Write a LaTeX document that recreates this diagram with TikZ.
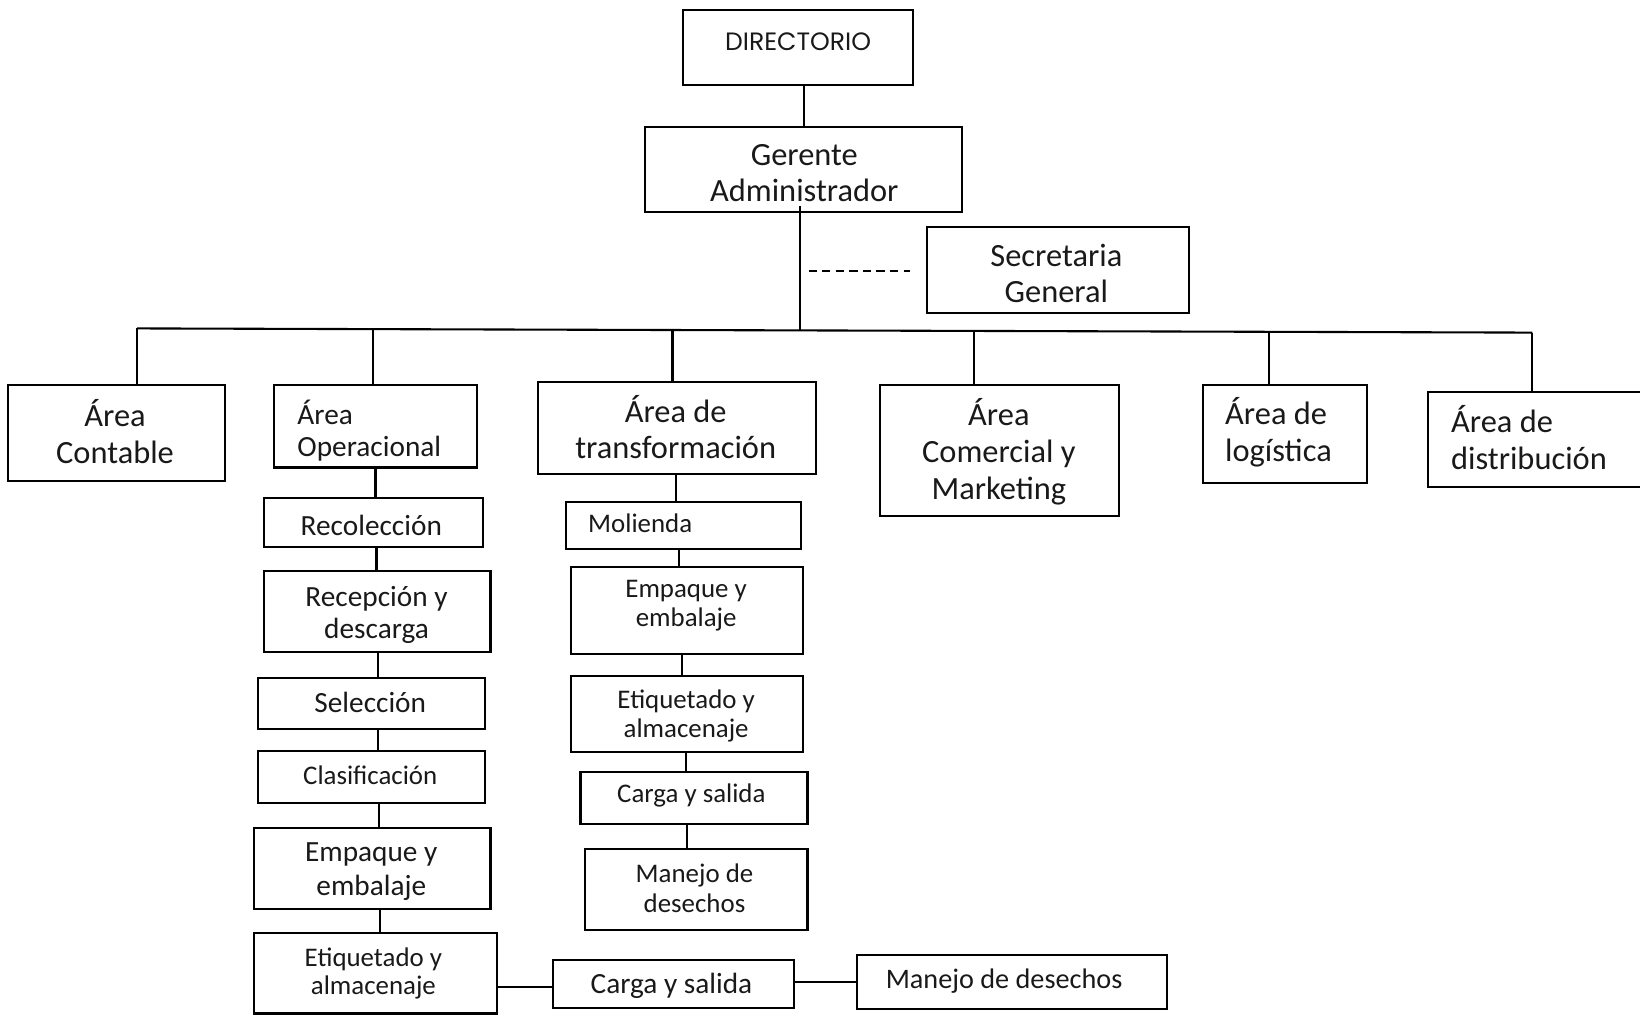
\documentclass[tikz,border=0pt]{standalone}
\usepackage{fontspec}
\setmainfont{Carlito}
\newfontfamily\dirfont{Poppins}
\usetikzlibrary{fit,calc}
\begin{document}
\begin{tikzpicture}[x=0.5pt,y=-0.5pt,
  box/.style={draw, line width=1pt, inner sep=0pt, outer sep=0pt},
  conn/.style={line width=1pt},
  dline/.style={line width=1pt, dash pattern=on 4pt off 2.5pt},
  lbl/.style={inner sep=0pt, align=center, text=black!90},
  lbll/.style={inner sep=0pt, align=left, text=black!90, anchor=west},
  fL/.style={font=\fontsize{15.5}{17.5}\selectfont},
  fM/.style={font=\fontsize{14}{15.5}\selectfont},
  fS/.style={font=\fontsize{12.85}{14}\selectfont},
]
\useasboundingbox (0,0) rectangle (1568,972);

% ---- boxes ----
\node[box, fit={(653,10)(873,81)}] (dir) {};
\node[box, fit={(617,121)(920,203)}] (ger) {};
\node[box, fit={(886,217)(1137,299)}] (sec) {};

\node[box, fit={(8,368)(215,460)}] (ac) {};
\node[box, fit={(262,368)(456,447)}] (op) {};
\node[box, fit={(514,365)(780,453)}] (tr) {};
\node[box, fit={(841,368)(1070,493)}] (cm) {};
\node[box, fit={(1150,368)(1307,462)}] (lg) {};
\node[box, fit={(1365,375)(1580,466)}] (ds) {};

\node[box, fit={(252,476)(462,523)}] (rec) {};
\node[box, fit={(252,546)(469,623)}] (rcp) {};
\node[box, fit={(247,648)(464,697)}] (sel) {};
\node[box, fit={(247,718)(464,768)}] (cla) {};
\node[box, fit={(243,792)(469,869)}] (emp) {};
\node[box, fit={(243,892)(475,969)}] (eta) {};
\node[box, fit={(529,918)(759,964)}] (cga) {};
\node[box, fit={(819,913)(1116,965)}] (mna) {};

\node[box, fit={(541,480)(766,525)}] (mol) {};
\node[box, fit={(546,542)(768,625)}] (emb) {};
\node[box, fit={(546,646)(768,719)}] (etb) {};
\node[box, fit={(555,738)(772,788)}] (cgb) {};
\node[box, fit={(559,812)(772,889)}] (mnb) {};

% ---- texts ----
\node[lbl, font=\dirfont\fontsize{12}{14}\selectfont] (dir-t) at (763,40) {DIRECTORIO};
\node[lbl,fL] (ger-t) at (769,165.5) {Gerente\\Administrador};
\node[lbl,fL] (sec-t) at (1010,261.5) {Secretaria\\General};

\node[lbl,fL] (ac-t) at (110,412.5) {Área\\Contable};
\node[lbll,fM] (op-t) at (284,411.5) {Área\\Operacional};
\node[lbl,fL] (tr-t) at (646,408.5) {Área de\\transformación};
\node[lbl,fL] (cm-t) at (955,432) {Área\\Comercial y\\Marketing};
\node[lbll,fL] (lg-t) at (1171,413.5) {Área de\\logística};
\node[lbll,fL] (ds-t) at (1387,418.5) {Área de\\distribución};

\node[lbl,fM] (rec-t) at (355,502) {Recolección};
\node[lbl,fM] (rcp-t) at (360,588) {Recepción y\\descarga};
\node[lbl,fM] (sel-t) at (354,672) {Selección};
\node[lbl,fS] (cla-t) at (354,741) {Clasificación};
\node[lbl,font=\fontsize{14}{16.5}\selectfont] (emp-t) at (355,833.5) {Empaque y\\embalaje};
\node[lbl,font=\fontsize{12.85}{13.5}\selectfont] (eta-t) at (357,930.5) {Etiquetado y\\almacenaje};
\node[lbl,fM] (cga-t) at (642,943) {Carga y salida};
\node[lbl,font=\fontsize{13.5}{15}\selectfont] (mna-t) at (960,938) {Manejo de desechos};

\node[lbll,fS] (mol-t) at (562,500) {Molienda};
\node[lbl,fS] (emb-t) at (656,579) {Empaque y\\embalaje};
\node[lbl,font=\fontsize{12.85}{13.5}\selectfont] (etb-t) at (656,684.5) {Etiquetado y\\almacenaje};
\node[lbl,fS] (cgb-t) at (661,761) {Carga y salida};
\node[lbl,font=\fontsize{12.85}{14.5}\selectfont] (mnb-t) at (664,849.5) {Manejo de\\desechos};

% ---- connectors ----
\draw[conn] (dir.south -| ger.north) -- (ger.north);

\coordinate (busL) at (131,314);
\coordinate (busR) at (1465,318);
\draw[conn] (busL) -- (busR);
\coordinate (hub) at (765,315.9);
\coordinate (hubtop) at (765,197);
\draw[conn] (hubtop) -- (hub);

\coordinate (bA) at (131,314);
\coordinate (bB) at (357,314.7);
\coordinate (bC) at (643,315.5);
\coordinate (bD) at (931,316.4);
\coordinate (bE) at (1213,317.2);
\coordinate (bF) at (1465,318);
\draw[conn] (bA) -- (bA |- ac.north);
\draw[conn] (bB) -- (bB |- op.north);
\draw[conn] (bC) -- (bC |- tr.north);
\draw[conn] (bD) -- (bD |- cm.north);
\draw[conn] (bE) -- (bE |- lg.north);
\draw[conn] (bF) -- (bF |- ds.north);

\coordinate (dsh) at (773,259);
\draw[dline] (dsh) -- ($(dsh -| sec.west)+(-16,0)$);

% operational column
\coordinate (v1) at (359,0);
\coordinate (v2) at (360,0);
\coordinate (v3) at (361,0);
\coordinate (v4) at (361,0);
\coordinate (v5) at (362,0);
\coordinate (v6) at (363,0);
\draw[conn] (op.south -| v1) -- (rec.north -| v1);
\draw[conn] (rec.south -| v2) -- (rcp.north -| v2);
\draw[conn] (rcp.south -| v3) -- (sel.north -| v3);
\draw[conn] (sel.south -| v4) -- (cla.north -| v4);
\draw[conn] (cla.south -| v5) -- (emp.north -| v5);
\draw[conn] (emp.south -| v6) -- (eta.north -| v6);

\coordinate (h1) at (0,944);
\coordinate (h2) at (0,939);
\draw[conn] (eta.east |- h1) -- (cga.west |- h1);
\draw[conn] (cga.east |- h2) -- (mna.west |- h2);

% transformation column
\coordinate (w1) at (646,0);
\coordinate (w2) at (649,0);
\coordinate (w3) at (652,0);
\coordinate (w4) at (656,0);
\coordinate (w5) at (657,0);
\draw[conn] (tr.south -| w1) -- (mol.north -| w1);
\draw[conn] (mol.south -| w2) -- (emb.north -| w2);
\draw[conn] (emb.south -| w3) -- (etb.north -| w3);
\draw[conn] (etb.south -| w4) -- (cgb.north -| w4);
\draw[conn] (cgb.south -| w5) -- (mnb.north -| w5);
\end{tikzpicture}
\end{document}
